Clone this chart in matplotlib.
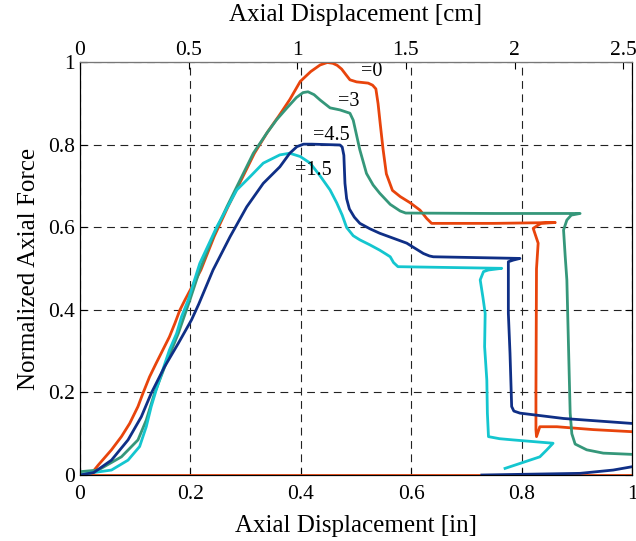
import matplotlib

matplotlib.use('Agg')

import matplotlib.pyplot as plt

# curves (x in inches, y normalized force)
x_0 = [0.0, 0.021, 0.033, 0.057, 0.075, 0.09, 0.105, 0.114, 0.126, 0.138, 0.15, 0.162,
       0.172, 0.181, 0.19, 0.219, 0.243, 0.268, 0.292, 0.316, 0.34, 0.36, 0.38, 0.399,
       0.418, 0.435, 0.448, 0.458, 0.466, 0.474, 0.482, 0.489, 0.501, 0.522, 0.53, 0.536,
       0.54, 0.544, 0.549, 0.555, 0.566, 0.58, 0.598, 0.616, 0.628, 0.637, 0.75, 0.861,
       0.835, 0.821, 0.83, 0.827, 0.826, 0.826, 0.827, 0.833, 0.864, 0.93, 1.0]
y_0 = [0.0, 0.004, 0.024, 0.061, 0.093, 0.125, 0.166, 0.198, 0.238, 0.271, 0.303, 0.335,
       0.368, 0.4, 0.424, 0.497, 0.578, 0.65, 0.715, 0.78, 0.832, 0.87, 0.91, 0.954,
       0.978, 0.994, 1.0, 0.998, 0.993, 0.984, 0.97, 0.958, 0.953, 0.95, 0.945, 0.936,
       0.9, 0.85, 0.79, 0.73, 0.69, 0.675, 0.66, 0.642, 0.622, 0.61, 0.61, 0.612,
       0.61, 0.598, 0.562, 0.5, 0.2, 0.11, 0.093, 0.117, 0.117, 0.11, 0.105]
x_0_base = [0.0, 1.0]
y_0_base = [0.0, 0.0]

x_3 = [0.0, 0.033, 0.075, 0.105, 0.12, 0.135, 0.156, 0.178, 0.199, 0.217, 0.241, 0.266,
       0.29, 0.314, 0.338, 0.356, 0.375, 0.392, 0.404, 0.413, 0.424, 0.435, 0.453, 0.471,
       0.489, 0.495, 0.5, 0.507, 0.519, 0.531, 0.543, 0.562, 0.58, 0.59, 0.75, 0.906,
       0.89, 0.882, 0.876, 0.879, 0.882, 0.885, 0.888, 0.891, 0.897, 0.918, 0.948, 1.0]
y_3 = [0.008, 0.012, 0.044, 0.085, 0.133, 0.198, 0.271, 0.343, 0.424, 0.497, 0.578, 0.65,
       0.715, 0.78, 0.828, 0.861, 0.89, 0.915, 0.927, 0.929, 0.922, 0.909, 0.89, 0.885,
       0.877, 0.86, 0.83, 0.788, 0.731, 0.703, 0.683, 0.656, 0.64, 0.635, 0.634, 0.634,
       0.63, 0.618, 0.594, 0.53, 0.473, 0.311, 0.15, 0.1, 0.075, 0.061, 0.053, 0.05]

x_15 = [0.0, 0.014, 0.057, 0.087, 0.108, 0.12, 0.129, 0.138, 0.15, 0.162, 0.175, 0.184,
        0.196, 0.217, 0.248, 0.284, 0.308, 0.332, 0.362, 0.38, 0.399, 0.417, 0.435, 0.453,
        0.465, 0.475, 0.483, 0.495, 0.507, 0.525, 0.543, 0.555, 0.562, 0.568, 0.576,
        0.764, 0.74, 0.731, 0.725, 0.73, 0.734, 0.733, 0.737, 0.738, 0.74, 0.76, 0.785,
        0.857, 0.845, 0.833, 0.797, 0.77]
y_15 = [0.0, 0.004, 0.012, 0.036, 0.069, 0.117, 0.166, 0.206, 0.255, 0.303, 0.343, 0.384,
        0.424, 0.513, 0.602, 0.691, 0.723, 0.756, 0.776, 0.78, 0.772, 0.756, 0.725, 0.691,
        0.66, 0.63, 0.6, 0.58, 0.57, 0.558, 0.545, 0.535, 0.529, 0.515, 0.505,
        0.501, 0.497, 0.493, 0.473, 0.43, 0.392, 0.311, 0.23, 0.15, 0.093, 0.088, 0.085,
        0.077, 0.06, 0.044, 0.028, 0.016]

x_45 = [0.0, 0.025, 0.057, 0.087, 0.111, 0.129, 0.153, 0.178, 0.202, 0.215, 0.241, 0.272,
        0.302, 0.332, 0.362, 0.38, 0.393, 0.405, 0.42, 0.471, 0.475, 0.478, 0.48, 0.483,
        0.488, 0.497, 0.507, 0.525, 0.543, 0.592, 0.622, 0.633, 0.64, 0.797, 0.785, 0.776,
        0.776, 0.779, 0.782, 0.786, 0.797, 0.876, 1.0]
y_45 = [0.0, 0.006, 0.036, 0.085, 0.141, 0.198, 0.262, 0.319, 0.376, 0.414, 0.497, 0.578,
        0.65, 0.707, 0.747, 0.78, 0.796, 0.802, 0.802, 0.8, 0.795, 0.775, 0.707, 0.67,
        0.645, 0.625, 0.61, 0.597, 0.586, 0.562, 0.537, 0.531, 0.529, 0.525, 0.521, 0.517,
        0.392, 0.295, 0.166, 0.155, 0.15, 0.137, 0.125]
x_45_base = [0.728, 0.906, 0.966, 1.0]
y_45_base = [0.0, 0.004, 0.012, 0.02]

labels = ['=0', '=3', '=4.5', '=1.5']
label_pos = [(0.529, 0.978), (0.486, 0.905), (0.456, 0.824), (0.423, 0.739)]

in_ticks = [0, 0.2, 0.4, 0.6, 0.8, 1.0]
in_ticklabels = ['0', '0.2', '0.4', '0.6', '0.8', '1']
cm_ticks = [0, 0.5, 1.0, 1.5, 2.0, 2.5]
cm_ticklabels = ['0', '0.5', '1', '1.5', '2', '2.5']

plt.rcParams['font.family'] = ['Liberation Serif', 'DejaVu Serif']

c_0 = '#e8440c'
c_3 = '#35977a'
c_15 = '#14c6cf'
c_45 = '#0f2f86'

fig = plt.figure(figsize=(6.36, 5.41), dpi=100)
ax = fig.add_axes([0.1258, 0.122, 0.8679, 0.7625])

ax.plot(x_0_base, y_0_base, color=c_0, lw=2.0, zorder=3)
ax.plot(x_0, y_0, color=c_0, lw=2.0, zorder=3)
ax.plot(x_3, y_3, color=c_3, lw=2.0, zorder=3)
ax.plot(x_15, y_15, color=c_15, lw=2.0, zorder=3)
ax.plot(x_45, y_45, color=c_45, lw=2.0, zorder=3)
ax.plot(x_45_base, y_45_base, color=c_45, lw=2.0, zorder=3)

for txt, (lx, ly) in zip(labels, label_pos):
    ax.text(lx, ly, txt, fontsize=14.5, ha='center', va='center', zorder=4)

ax.set_xlim(0, 1)
ax.set_ylim(0, 1)
ax.set_xticks(in_ticks)
ax.set_xticklabels(in_ticklabels)
ax.set_yticks(in_ticks)
ax.set_yticklabels(in_ticklabels)
ax.tick_params(direction='in', labelsize=15.5, length=5, top=False, right=True)
ax.tick_params(axis='x', pad=7)
ax.grid(True, color='#222222', lw=0.8, linestyle=(0, (7, 5)))
ax.set_xlabel('Axial Displacement [in]', fontsize=18, labelpad=8)
ax.set_ylabel('Normalized Axial Force', fontsize=18, labelpad=6)

top = ax.twiny()
top.set_xlim(0, 2.54)
top.set_xticks(cm_ticks)
top.set_xticklabels(cm_ticklabels)
top.tick_params(direction='in', labelsize=15.5, length=5, pad=2)
top.set_xlabel('Axial Displacement [cm]', fontsize=18, labelpad=14)
top.spines['top'].set_color('#777777')

fig.savefig('out.png', dpi=100)
